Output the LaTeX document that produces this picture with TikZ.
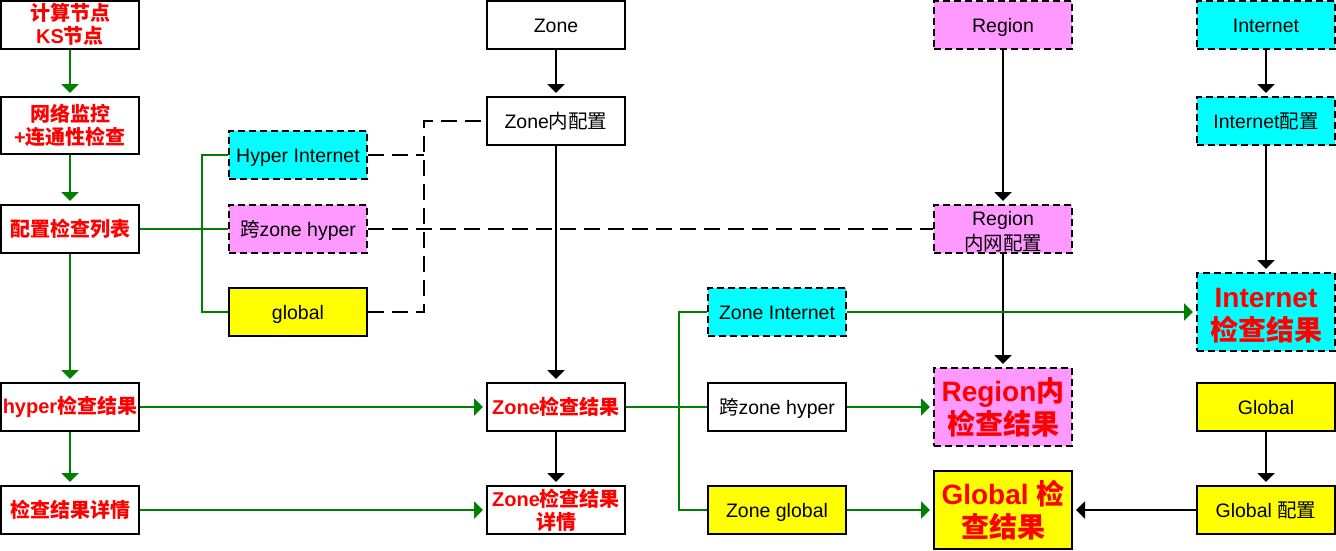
\documentclass[tikz,border=0pt]{standalone}
\usepackage{fontspec}
\setmainfont{Liberation Sans}
\newfontfamily\cjk{Noto Sans CJK SC}
\usetikzlibrary{arrows.meta}
\newcommand\zh[1]{{\cjk #1}}
\newcommand\upr[1]{\rule{0pt}{#1}}
\definecolor{cyanc}{HTML}{00FFFF}
\definecolor{magc}{HTML}{FF99FF}
\definecolor{yelc}{HTML}{FFFF00}
\definecolor{grnc}{HTML}{008000}
\definecolor{redc}{HTML}{FF0000}
\begin{document}
\begin{tikzpicture}[x=1pt,y=-1pt,
  box/.style={draw=black,line width=2pt,fill=white,minimum width=138pt,minimum height=48pt,inner sep=0pt,align=center,font=\fontsize{19.5}{25}\selectfont},
  dbox/.style={box,dash pattern=on 7pt off 4pt},
  one/.style={text height=20pt,text depth=4.5pt},
  redt/.style={text=redc,font=\fontsize{20}{23}\selectfont\bfseries},
  bigt/.style={text=redc,font=\fontsize{28}{33}\selectfont\bfseries},
  tall/.style={minimum height=78pt},
  cy/.style={fill=cyanc},
  mg/.style={fill=magc},
  yl/.style={fill=yelc},
  tip/.style={-{Triangle[width=17pt,length=9pt]},shorten >=3pt},
  gline/.style={draw=grnc,line width=2pt},
  garr/.style={gline,tip},
  barr/.style={draw=black,line width=2pt,tip},
  dline/.style={draw=black,line width=2pt,dash pattern=on 16pt off 8pt}
]
\useasboundingbox (0,0) rectangle (1336,550);
% column 1
\node[box,redt] (n1) at (70,24.5) {\zh{计算节点}\\KS\zh{节点}};
\node[box,redt,minimum height=57pt] (n2) at (70,125.5) {\zh{网络监控}\\+\zh{连通性检查}};
\node[box,redt] (n3) at (70,229) {\zh{配置检查列表}};
\node[box,redt] (n4) at (70,407) {hyper\zh{检查结果}};
\node[box,redt] (n5) at (70,510) {\zh{检查结果详情}};
% column 2
\node[dbox,cy,one] (hi) at (298,155) {Hyper Internet};
\node[dbox,mg,one] (kz) at (298,229) {\zh{跨}zone hyper};
\node[box,yl,one] (gl) at (298,312) {global};
% column 3
\node[box,one] (z1) at (556,24.5) {Zone};
\node[box,one] (zi) at (556,121) {Zone\zh{内配置}};
\node[box,redt] (zr) at (556,407) {Zone\zh{检查结果}};
\node[box,redt] (zd) at (556,510) {Zone\zh{检查结果}\\\zh{详情}};
% column 4
\node[dbox,cy,one] (zI) at (777,312) {Zone Internet};
\node[box,one] (zk) at (777,407) {\zh{跨}zone hyper};
\node[box,yl,one] (zg) at (777,510) {Zone global};
% column 5
\node[dbox,mg,one] (r1) at (1003,24.5) {Region};
\node[dbox,mg] (rn) at (1003,229) {\upr{20pt}Region\\\zh{内网配置}};
\node[dbox,mg,tall,bigt] (rr) at (1003,407) {\upr{24pt}Region\zh{内}\\\zh{检查结果}};
\node[box,yl,tall,bigt] (gr) at (1003,510) {Global \zh{检}\\\zh{查结果}};
% column 6
\node[dbox,cy,one] (i1) at (1266,24.5) {Internet};
\node[dbox,cy,one] (ic) at (1266,121) {Internet\zh{配置}};
\node[dbox,cy,tall,bigt] (ir) at (1266,312) {\upr{26pt}Internet\\\zh{检查结果}};
\node[box,yl,one] (g1) at (1266,407) {Global};
\node[box,yl,one] (gc) at (1266,510) {Global \zh{配置}};
% helper coordinates
\coordinate (b1) at (202,229);
\coordinate (d1) at (424,155);
\coordinate (b2) at (679,407);
% green arrows column 1
\draw[garr] (n1) -- (n2);
\draw[garr] (n2) -- (n3);
\draw[garr] (n3) -- (n4);
\draw[garr] (n4) -- (n5);
\draw[garr] (n4) -- (zr);
\draw[garr] (n5) -- (zd);
% green bracket left
\draw[gline] (n3.east) -- (kz.west);
\draw[gline] (hi.west) -- (hi.west -| b1) -- (gl.west -| b1) -- (gl.west);
% dashed connectors
\draw[dline] (gl.east) -| (d1) |- (zi.west);
\draw[dline] (hi.east) -- (d1);
\draw[dline] (kz.east) -- (rn.west);
% black arrows
\draw[barr] (z1) -- (zi);
\draw[barr] (zi) -- (zr);
\draw[barr] (zr) -- (zd);
\draw[barr] (r1) -- (rn);
\draw[barr] (rn) -- (rr);
\draw[barr] (i1) -- (ic);
\draw[barr] (ic) -- (ir);
\draw[barr] (g1) -- (gc);
\draw[barr] (gc) -- (gr);
% green bracket right
\draw[gline] (zr.east) -- (zk.west);
\draw[gline] (zI.west) -- (zI.west -| b2) -- (zg.west -| b2) -- (zg.west);
\draw[garr] (zI) -- (ir);
\draw[garr] (zk) -- (rr);
\draw[garr] (zg) -- (gr);
\end{tikzpicture}
\end{document}
